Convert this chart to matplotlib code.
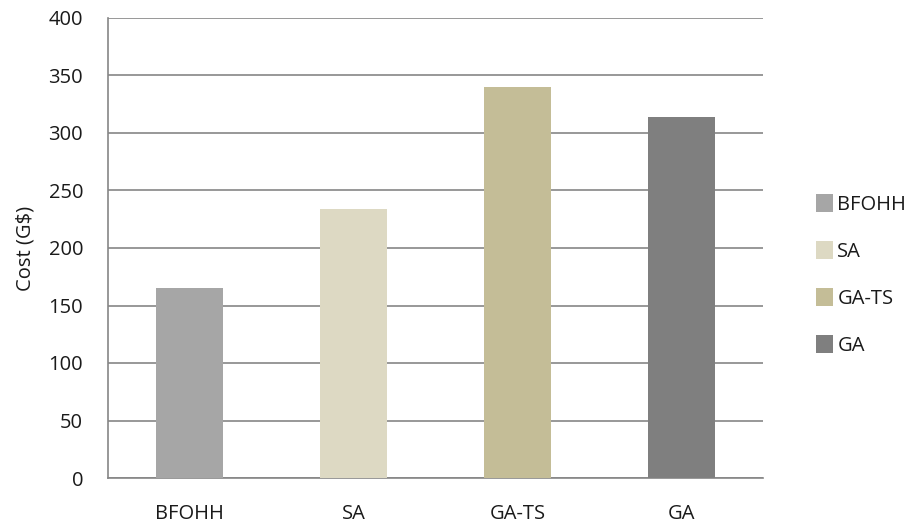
import matplotlib
matplotlib.use('Agg')
import matplotlib.pyplot as plt
from matplotlib.patches import Patch

methods = ['BFOHH', 'SA', 'GA-TS', 'GA']
costs = [165, 234, 340, 314]
colors = ['#A6A6A6', '#DDD9C3', '#C4BD97', '#7F7F7F']
yticks = [0, 50, 100, 150, 200, 250, 300, 350, 400]

plt.rcParams['font.family'] = ['Open Sans', 'DejaVu Sans']
fs = 14.5

fig = plt.figure(figsize=(9.05, 5.23), dpi=100)
ax = fig.add_axes([108 / 905, 1 - 478 / 523, 655 / 905, 460 / 523])

x = range(len(methods))
ax.bar(x, costs, width=0.41, color=colors, zorder=3)

ax.set_xlim(-0.5, 3.5)
ax.set_ylim(0, 400)
ax.set_yticks(yticks)
ax.set_xticks(list(x))
ax.set_xticklabels(methods)
ax.grid(axis='y', color='#868686', linewidth=1.2, zorder=0)
ax.tick_params(axis='both', length=0, labelsize=fs, colors='#1a1a1a')
ax.tick_params(axis='x', pad=19)
ax.tick_params(axis='y', pad=18)

for s in ['top', 'right']:
    ax.spines[s].set_visible(False)
for s in ['bottom', 'left']:
    ax.spines[s].set_color('#868686')
    ax.spines[s].set_linewidth(1.2)

ax.set_ylabel('Cost (G$)', fontsize=fs, labelpad=9, color='#1a1a1a')

handles = [Patch(facecolor=c, edgecolor='none') for c in colors]
leg = fig.legend(handles, methods, loc='upper left',
                 bbox_to_anchor=(798 / 905, 1 - 176 / 523),
                 frameon=False, fontsize=fs, handlelength=0.85,
                 handleheight=1.0, handletextpad=0.2, labelspacing=1.3)
for t in leg.get_texts():
    t.set_color('#1a1a1a')

fig.savefig('out.png', dpi=100)
